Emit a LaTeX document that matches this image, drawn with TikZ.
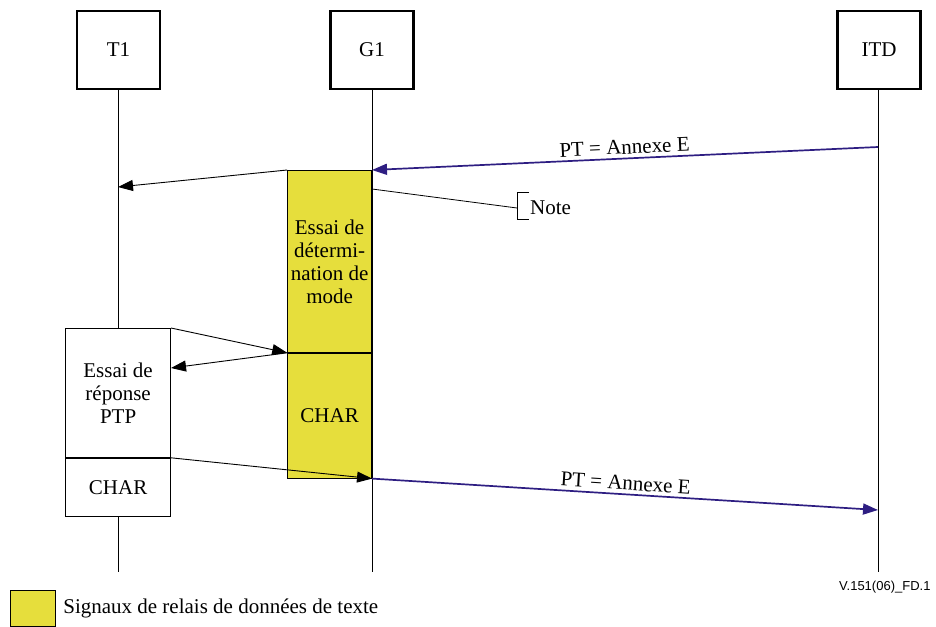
\documentclass[tikz,border=0pt]{standalone}
\usepackage{fontspec}
\setmainfont{Liberation Serif}
\newfontfamily\figserif{Liberation Serif}
\newfontfamily\figsans{Liberation Sans}
\usetikzlibrary{positioning}
\usetikzlibrary{arrows.meta}
\definecolor{sigblue}{RGB}{46,30,130}
\definecolor{relayyellow}{RGB}{230,222,60}

\begin{document}
\begin{tikzpicture}[x=1pt,y=-1pt,font=\figserif\fontsize{21}{23}\selectfont,
  entity/.style={draw,line width=2.5pt,minimum width=83pt,minimum height=78pt},
  phase/.style={draw,line width=0.8pt,align=center,inner sep=0pt,anchor=north east},
  msg/.style={-{Triangle[length=15pt,width=11pt]},line width=0.9pt},
  ptmsg/.style={msg,sigblue,line width=1.7pt}]
  \useasboundingbox (0,0) rectangle (936,626);

  % entities and lifelines
  \node[entity] (t1) at (118.5,50) {T1};
  \node[entity] (g1) at (372,50) {G1};
  \node[entity] (itd) at (879,50) {ITD};
  \foreach \e/\x in {t1/118,g1/372,itd/878}
    \draw[line width=0.8pt] (\x,90) -- (\x,572) coordinate (\e-end);

  % phases
  \node[phase,fill=relayyellow,minimum width=84pt,minimum height=182pt] (mode) at (372,170)
    {Essai de\\détermi-\\nation de\\mode};
  \node[phase,fill=relayyellow,minimum width=84pt,minimum height=125pt] (gchar) at (mode.south east)
    {CHAR};
  \node[phase,fill=white,minimum width=105pt,minimum height=129pt] (ptp) at (171,328)
    {Essai de\\réponse\\PTP};
  \node[phase,fill=white,minimum width=105pt,minimum height=58pt] (tchar) at (ptp.south east)
    {CHAR};

  % points on the lifelines
  \coordinate (itd-a) at (878,147);
  \coordinate (itd-b) at (878,510);
  \coordinate (t1-a) at (118,187);
  \coordinate (ptp-a) at (171,368);
  \coordinate (g1-n) at (372,189);
  \coordinate (note-br) at (517,208);

  % messages
  \draw[ptmsg] (itd-a) -- node[above,sloped,text=black] {PT = Annexe E} (mode.north east);
  \draw[msg] (mode.north west) -- (t1-a);
  \draw[msg] (ptp.north east) -- (mode.south west);
  \draw[msg] (mode.south west) -- (ptp-a);
  \draw[msg] (tchar.north east) -- (gchar.south east);
  \draw[ptmsg] (gchar.south east) -- node[above,sloped,text=black] {PT = Annexe E} (itd-b);

  % note
  \draw[line width=0.8pt] (g1-n) -- (note-br);
  \draw[line width=0.8pt] (529,192) -- (517,192) -- (517,219) -- (529,219);
  \node[anchor=west,inner sep=1pt] (note) at (529,208) {Note};

  % legend
  \node[draw,line width=0.8pt,fill=relayyellow,minimum width=45pt,minimum height=36pt,anchor=north west] (key) at (10,590) {};
  \node[right=4pt of key] (keytext) {Signaux de relais de données de texte};
  \node[font=\figsans\fontsize{13}{15}\selectfont,anchor=east] (figref) at (934,587) {V.151(06)\_FD.1};
\end{tikzpicture}
\end{document}
